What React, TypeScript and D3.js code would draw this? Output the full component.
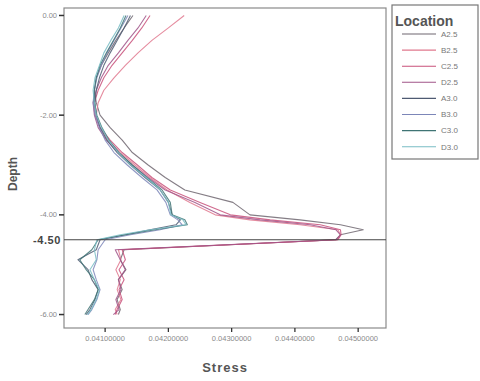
import React from "react";
import * as d3 from "d3";

// Depth levels (m) shared by every location profile
const depths = [
  0, -0.25, -0.5, -0.75, -1.0, -1.25, -1.5, -1.75, -2.0, -2.25, -2.5, -2.75, -3.0, -3.25,
  -3.5, -3.75, -4.0, -4.1, -4.2, -4.3, -4.4, -4.5, -4.7, -4.9, -5.1, -5.3, -5.5, -5.7, -5.9, -6.0,
];

const locations = ["A2.5", "B2.5", "C2.5", "D2.5", "A3.0", "B3.0", "C3.0", "D3.0"];

const stressA25 = [0.04144,0.04130,0.04117,0.04105,0.04094,0.04086,0.04083,0.04086,0.04092,0.04108,0.04127,0.04143,0.04168,0.04195,0.04226,0.04302,0.04329,0.04408,0.04472,0.04508,0.04472,0.04464,0.04130,0.04124,0.04133,0.04121,0.04127,0.04119,0.04124,0.04121];
const stressB25 = [0.04225,0.04200,0.04174,0.04152,0.04132,0.04114,0.04098,0.04089,0.04086,0.04092,0.04105,0.04124,0.04147,0.04171,0.04198,0.04234,0.04274,0.04329,0.04408,0.04468,0.04472,0.04467,0.04121,0.04125,0.04117,0.04124,0.04119,0.04125,0.04116,0.04119];
const stressC25 = [0.04171,0.04158,0.04143,0.04127,0.04111,0.04098,0.04089,0.04083,0.04084,0.04092,0.04108,0.04127,0.04151,0.04174,0.04203,0.04250,0.04298,0.04361,0.04440,0.04472,0.04473,0.04468,0.04127,0.04132,0.04122,0.04130,0.04122,0.04127,0.04119,0.04116];
const stressD25 = [0.04165,0.04152,0.04136,0.04121,0.04105,0.04094,0.04086,0.04081,0.04083,0.04089,0.04102,0.04121,0.04143,0.04168,0.04195,0.04242,0.04282,0.04345,0.04424,0.04465,0.04472,0.04465,0.04116,0.04124,0.04132,0.04121,0.04125,0.04117,0.04122,0.04113];
const stressA30 = [0.04140,0.04130,0.04119,0.04108,0.04098,0.04091,0.04086,0.04084,0.04086,0.04092,0.04103,0.04119,0.04140,0.04163,0.04187,0.04200,0.04206,0.04219,0.04212,0.04171,0.04132,0.04092,0.04086,0.04057,0.04073,0.04079,0.04089,0.04084,0.04076,0.04070];
const stressB30 = [0.04136,0.04125,0.04114,0.04103,0.04094,0.04087,0.04083,0.04081,0.04084,0.04091,0.04100,0.04114,0.04135,0.04158,0.04182,0.04196,0.04203,0.04215,0.04222,0.04187,0.04140,0.04100,0.04089,0.04087,0.04081,0.04086,0.04092,0.04087,0.04079,0.04073];
const stressC30 = [0.04133,0.04124,0.04113,0.04102,0.04092,0.04086,0.04083,0.04083,0.04087,0.04095,0.04106,0.04122,0.04143,0.04166,0.04190,0.04203,0.04206,0.04226,0.04230,0.04179,0.04132,0.04089,0.04079,0.04060,0.04070,0.04083,0.04089,0.04083,0.04073,0.04068];
const stressD30 = [0.04130,0.04121,0.04109,0.04098,0.04091,0.04084,0.04081,0.04083,0.04086,0.04094,0.04105,0.04121,0.04140,0.04165,0.04187,0.04200,0.04204,0.04223,0.04228,0.04171,0.04124,0.04087,0.04083,0.04086,0.04076,0.04083,0.04091,0.04086,0.04078,0.04072];

const seriesStress = [stressA25, stressB25, stressC25, stressD25, stressA30, stressB30, stressC30, stressD30];
const seriesColors = ["#6e6670", "#e0788e", "#c8507a", "#a05488", "#4e5a72", "#7c86b8", "#3f7474", "#78bcc4"];

const xTicks = [0.041, 0.042, 0.043, 0.044, 0.045];
const xTickLabels = ["0.04100000", "0.04200000", "0.04300000", "0.04400000", "0.04500000"];
const yTicks = [0, -2, -4, -6];
const yTickLabels = ["0.00", "-2.00", "-4.00", "-6.00"];
const refDepth = -4.5;
const refLabel = "-4.50";

const W = 480;
const H = 381;
const left = 64;
const right = 386;
const top = 8;
const bottom = 328;

export default function App() {
  const x = d3.scaleLinear().domain([0.04035, 0.04544]).range([left, right]);
  const y = d3.scaleLinear().domain([0.15, -6.27]).range([top, bottom]);

  const line = d3
    .line<[number, number]>()
    .x((d) => x(d[0]))
    .y((d) => y(d[1]));

  const font = "Arial, 'Liberation Sans', sans-serif";

  return (
    <svg
      width={W}
      height={H}
      style={{ position: "absolute", left: 0, top: 0, background: "#fff" }}
      fontFamily={font}
    >
      <rect x={0} y={0} width={W} height={H} fill="#fff" />
      {/* plot frame */}
      <rect x={left} y={top} width={right - left} height={bottom - top} fill="#fff" stroke="#8a8a8a" strokeWidth={1.2} />

      {/* profiles */}
      <g fill="none" strokeWidth={1.1} strokeLinejoin="round">
        {seriesStress.map((vals, i) => (
          <path
            key={locations[i]}
            d={line(vals.map((v, j) => [v, depths[j]] as [number, number])) || ""}
            stroke={seriesColors[i]}
            opacity={0.85}
          />
        ))}
      </g>

      {/* reference depth */}
      <line x1={left} x2={right} y1={y(refDepth)} y2={y(refDepth)} stroke="#444" strokeWidth={1.1} />

      {/* y axis */}
      {yTicks.map((t, i) => (
        <g key={t}>
          <line x1={left - 5} x2={left} y1={y(t)} y2={y(t)} stroke="#333" strokeWidth={1.5} />
          <text x={left - 7} y={y(t)} dy="0.35em" textAnchor="end" fontSize={7.5} fill="#8a8a8a">
            {yTickLabels[i]}
          </text>
        </g>
      ))}
      <text x={left - 3} y={y(refDepth)} dy="0.35em" textAnchor="end" fontSize={11} fontWeight="bold" fill="#444" letterSpacing={0.6}>
        {refLabel}
      </text>

      {/* x axis */}
      {xTicks.map((t, i) => (
        <g key={t}>
          <line x1={x(t)} x2={x(t)} y1={bottom} y2={bottom + 4} stroke="#333" strokeWidth={1.3} />
          <text x={x(t)} y={bottom + 13} textAnchor="middle" fontSize={7.5} fill="#8a8a8a">
            {xTickLabels[i]}
          </text>
        </g>
      ))}

      {/* axis titles */}
      <text x={(left + right) / 2} y={372} textAnchor="middle" fontSize={13} fontWeight="bold" fill="#555" letterSpacing={1}>
        Stress
      </text>
      <text
        transform={`translate(17, ${(top + bottom) / 2 + 6}) rotate(-90)`}
        textAnchor="middle"
        fontSize={12}
        fontWeight="bold"
        fill="#555"
      >
        Depth
      </text>

      {/* legend */}
      <rect x={392} y={5} width={86} height={154} fill="#fff" stroke="#777" strokeWidth={1.2} />
      <text x={395} y={26} fontSize={14} fontWeight="bold" fill="#555">
        Location
      </text>
      {locations.map((name, i) => {
        const ly = 34 + i * 16.1;
        return (
          <g key={name}>
            <line x1={402} x2={436} y1={ly} y2={ly} stroke={seriesColors[i]} strokeWidth={1.1} />
            <text x={441} y={ly} dy="0.35em" fontSize={8} fill="#777">
              {name}
            </text>
          </g>
        );
      })}
    </svg>
  );
}
